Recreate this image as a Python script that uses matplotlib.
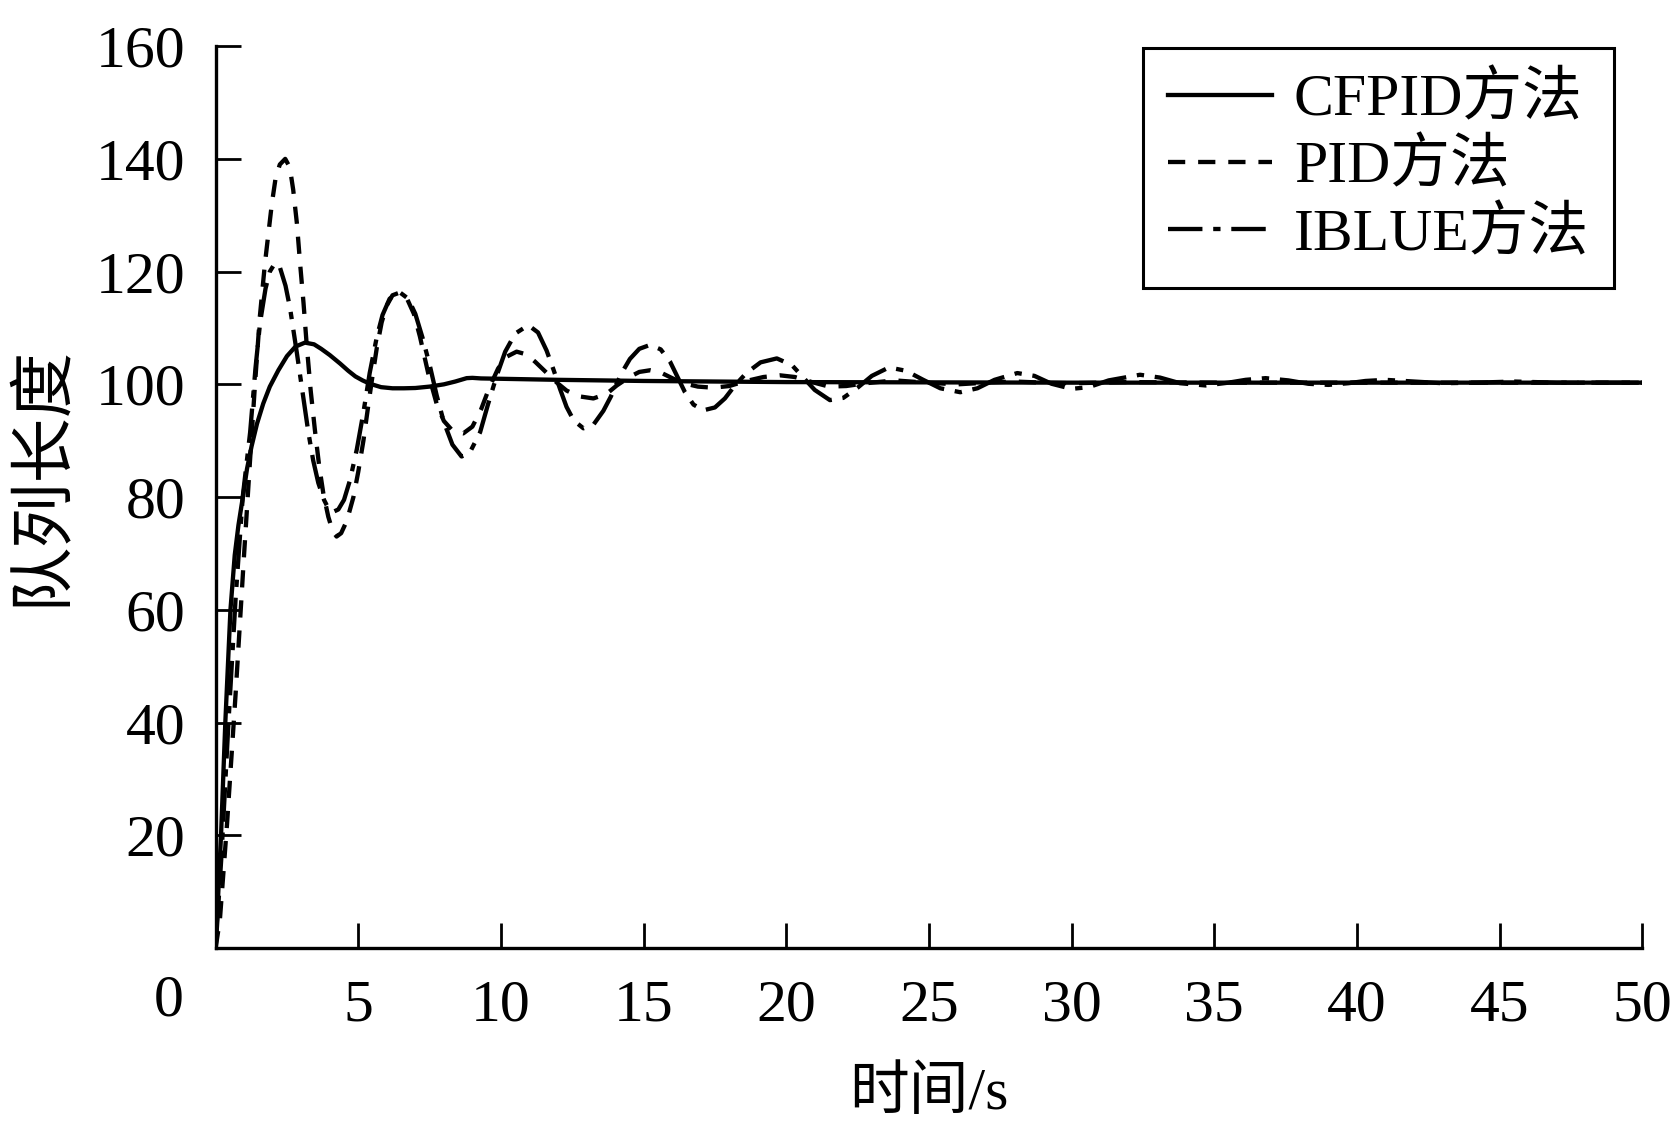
import matplotlib
matplotlib.use('Agg')
import matplotlib.pyplot as plt

plt.rcParams['font.family'] = ['Liberation Serif', 'Noto Sans CJK SC']
plt.rcParams['font.size'] = 43

# CFPID 方法 (solid)
t_cfpid = [0, 0.19, 0.34, 0.52, 0.67, 0.8, 0.97, 1.1, 1.26, 1.45, 1.67, 1.9, 2.2, 2.5, 2.8,
           3.13, 3.45, 3.7, 4.0, 4.36, 4.65, 4.9, 5.15, 5.41, 5.8, 6.2, 6.6, 7.0, 7.5, 8.0,
           8.4, 8.8, 9.0, 9.3, 12, 15, 20, 25, 30, 40, 50]
v_cfpid = [0, 20, 40, 60, 69.7, 75, 80.5, 85, 89, 93, 96.6, 99.6, 102.5, 105, 106.7,
           107.4, 107.1, 106.3, 105.2, 103.7, 102.4, 101.4, 100.7, 100.1, 99.5, 99.3, 99.3, 99.35, 99.6, 100.0,
           100.5, 101.1, 101.15, 101.05, 100.8, 100.6, 100.4, 100.35, 100.3, 100.3, 100.3]

# PID 方法 (dashed)
t_pid = [0, 0.15, 0.4, 0.7, 1.0, 1.2, 1.38, 1.55, 1.73, 1.97, 2.1, 2.25, 2.44, 2.6, 2.72,
         2.85, 2.96, 3.08, 3.19, 3.33, 3.48, 3.63, 3.78, 3.95, 4.1, 4.24, 4.4, 4.6, 4.83, 5.0,
         5.18, 5.33, 5.47, 5.65, 5.82, 6.0, 6.2, 6.46, 6.7, 6.95, 7.16, 7.45, 7.75, 8.0, 8.3,
         8.68, 9.0, 9.3, 9.6, 9.9, 10.2, 10.55, 10.9, 11.2, 11.55, 11.96, 12.3, 12.7, 13.24, 13.7,
         14.06, 14.5, 14.85, 15.23, 15.6, 16.0, 16.4, 16.9, 17.44, 18.0, 18.6, 19.2, 19.78, 20.3,
         20.9, 21.5, 22.1, 22.8, 23.8, 24.9, 26, 27, 28, 29, 30, 32, 35, 40, 50]
v_pid = [0, 5, 22, 45, 70, 86, 100, 112, 121.5, 132, 136.5, 139, 140, 138.5, 134.5,
         128.5, 121.5, 114.5, 107.2, 99, 91.9, 85.5, 80.5, 76.5, 74, 73, 73.6, 75.8, 80, 84.5,
         90, 95.5, 100.5, 106.5, 111, 114, 115.8, 116.3, 115.3, 112.5, 108.5, 102, 96.5, 93.5, 91.8,
         91.3, 92.5, 95.5, 99.5, 102.8, 104.9, 105.8, 105.3, 104, 102.3, 100.3, 98.9, 97.9, 97.5, 98.3,
         99.8, 101.3, 102.2, 102.5, 102.1, 101.1, 100.2, 99.6, 99.4, 99.7, 100.6, 101.3, 101.6, 101.3,
         100.4, 99.6, 99.7, 100.2, 100.7, 100.3, 100.0, 100.3, 100.5, 100.3, 100.2, 100.4, 100.3, 100.3, 100.3]

# IBLUE 方法 (dash-dot)
t_iblue = [0, 0.2, 0.45, 0.7, 0.95, 1.21, 1.4, 1.56, 1.75, 1.9, 2.08, 2.25, 2.45, 2.61, 2.85,
           3.07, 3.25, 3.42, 3.6, 3.8, 3.95, 4.13, 4.3, 4.5, 4.71, 4.95, 5.18, 5.4, 5.65, 5.85,
           6.1, 6.46, 6.75, 7.0, 7.25, 7.5, 7.75, 8.0, 8.3, 8.62, 8.9, 9.27, 9.55, 9.85, 10.15,
           10.5, 10.96, 11.3, 11.6, 11.85, 12.07, 12.3, 12.55, 12.89, 13.25, 13.59, 13.85, 14.06, 14.3, 14.52,
           14.85, 15.23, 15.6, 15.93, 16.2, 16.45, 16.75, 17.1, 17.5, 17.85, 18.2, 18.6, 19.1, 19.67, 20.2,
           20.6, 21.0, 21.53, 22.0, 22.5, 23.0, 23.6, 24.2, 24.8, 25.4, 26.1, 26.7, 27.3, 28.1, 28.7,
           29.3, 30.0, 30.6, 31.3, 32.4, 33.1, 33.8, 34.7, 35.5, 36.1, 36.8, 37.6, 38.3, 39.0, 39.7,
           40.3, 41.0, 42, 43, 44.2, 45.5, 47, 50]
v_iblue = [0, 16, 40, 62, 80, 91.5, 103, 111, 117, 120, 121.5, 120.8, 117.5, 113.5, 105.5,
           97.8, 91.5, 86.5, 82.5, 79.5, 78, 77.4, 77.8, 79.5, 83, 88.5, 95, 102, 108.4, 112.3,
           115.2, 116.3, 115.2, 112.5, 108.3, 103.5, 98, 93.3, 89.3, 87.2, 87.8, 91.5, 96.5, 101.5, 105.8,
           109, 110.5, 109.2, 106, 102.5, 99.2, 96, 93.6, 92.2, 92.9, 95.3, 97.8, 100.2, 102.6, 104.5,
           106.3, 107, 106.2, 104, 101.2, 98.6, 96.4, 95.4, 95.9, 97.5, 99.8, 102, 103.9, 104.6, 103.4,
           101.2, 99, 97.2, 97.6, 99.4, 101.5, 103, 102.4, 100.8, 99.3, 98.6, 99.3, 100.8, 102, 101.5,
           100.1, 99.2, 99.5, 100.7, 101.7, 101.2, 100.2, 99.8, 100.3, 100.8, 101.1, 100.7, 100.1, 99.9, 100.2,
           100.6, 100.8, 100.5, 100.2, 100.3, 100.5, 100.3, 100.3]

x_ticks = [5, 10, 15, 20, 25, 30, 35, 40, 45, 50]
y_ticks = [20, 40, 60, 80, 100, 120, 140, 160]
labels = ['CFPID方法', 'PID方法', 'IBLUE方法']

fig = plt.figure(figsize=(16.74, 11.25), dpi=100)
ax = fig.add_axes([0.1288, 0.1573, 0.8522, 0.8017])

lw = 3.1
ax.plot(t_cfpid, v_cfpid, color='black', lw=lw, label=labels[0])
ax.plot(t_pid, v_pid, color='black', lw=lw, dashes=(4, 3), label=labels[1])
ax.plot(t_iblue, v_iblue, color='black', lw=lw, dashes=(8, 2.5, 1.7, 2.5), label=labels[2])

ax.set_xlim(0, 50)
ax.set_ylim(0, 160)
ax.set_xticks(x_ticks)
ax.set_yticks(y_ticks)
ax.tick_params(direction='in', length=18, width=2, color='black')
ax.tick_params(axis='x', pad=23)
ax.tick_params(axis='y', pad=22)

for side in ['top', 'right']:
    ax.spines[side].set_visible(False)
for side in ['left', 'bottom']:
    ax.spines[side].set_linewidth(2.4)

ax.annotate('0', xy=(0, 0), xytext=(-47, -53), textcoords='offset pixels',
            ha='center', va='center')

ax.set_xlabel('时间/s')
ax.xaxis.set_label_coords(0.5, -0.162)
ax.xaxis.label.set_va('center')
ax.set_ylabel('队列长度', fontsize=47)
ax.yaxis.set_label_coords(-0.121, 0.524)
ax.yaxis.label.set_va('center')

leg = ax.legend(loc='upper right', bbox_to_anchor=(0.9804, 0.9978), borderaxespad=0,
                fancybox=False, edgecolor='black', framealpha=1,
                handlelength=1.75, handletextpad=0.36, labelspacing=0.2,
                borderpad=0.42)
leg.get_frame().set_linewidth(2.2)

fig.savefig('out.png', dpi=100)
